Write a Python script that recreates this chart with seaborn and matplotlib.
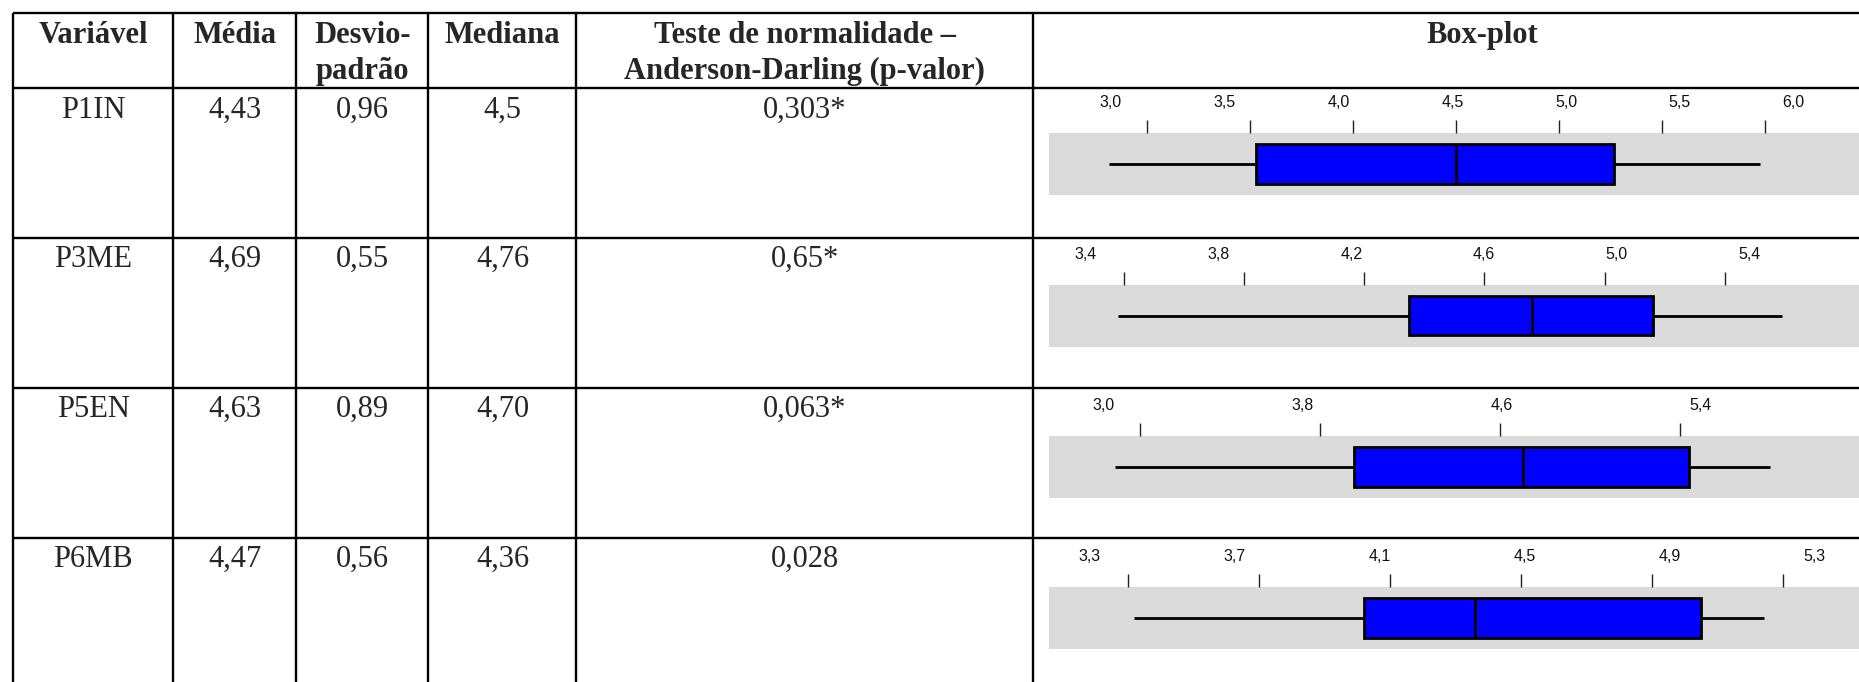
import numpy as np
import matplotlib.pyplot as plt
from matplotlib.transforms import ScaledTranslation
import seaborn as sns

# ======================================================================
# Dados lidos na tabela
# ======================================================================
VARIAVEIS = ["P1IN", "P3ME", "P5EN", "P6MB"]
MEDIA = ["4,43", "4,69", "4,63", "4,47"]
DESVIO = ["0,96", "0,55", "0,89", "0,56"]
MEDIANA = ["4,5", "4,76", "4,70", "4,36"]
AD_PVALOR = ["0,303*", "0,65*", "0,063*", "0,028"]

# resumo de cinco numeros de cada box-plot (min, Q1, mediana, Q3, max)
BOX_MIN = [2.82, 3.38, 2.89, 3.32]
BOX_Q1 = [3.53, 4.35, 3.95, 4.02]
BOX_MED = [4.50, 4.76, 4.70, 4.36]
BOX_Q3 = [5.27, 5.16, 5.44, 5.05]
BOX_MAX = [5.98, 5.59, 5.80, 5.24]

TICKS = [
    [3.0, 3.5, 4.0, 4.5, 5.0, 5.5, 6.0],
    [3.4, 3.8, 4.2, 4.6, 5.0, 5.4],
    [3.0, 3.8, 4.6, 5.4],
    [3.3, 3.7, 4.1, 4.5, 4.9, 5.3],
]
XLIMS = [(2.528, 6.774), (3.151, 6.064), (2.597, 6.483), (3.061, 5.729)]

HEADERS = [
    ["Variável"],
    ["Média"],
    ["Desvio-", "padrão"],
    ["Mediana"],
    ["Teste de normalidade –", "Anderson-Darling (p-valor)"],
    ["Box-plot"],
]

# ======================================================================
# Layout (pixels)
# ======================================================================
W, H, DPI = 1859, 682, 100
COL_X = [13.3, 173, 296.5, 428.5, 576.5, 1033, 1931]
ROW_Y = [13.3, 88, 237.7, 387.7, 537.7, 687.7]
BAND_TOP = [132.7, 284.5, 436.0, 587.0]
BAND_H = 62
BOX_LEFT, BOX_RIGHT = 1049.3, 1924
LABEL_STRETCH = 1.105  # os rotulos do eixo ficam um pouco mais espacados que os ticks

sns.set_style("white")
plt.rcParams["font.family"] = ["Liberation Serif", "DejaVu Serif"]

fig = plt.figure(figsize=(W / DPI, H / DPI), dpi=DPI)

# --- tabela ------------------------------------------------------------
tab = fig.add_axes([0, 0, 1, 1])
tab.set_xlim(0, W)
tab.set_ylim(H, 0)
tab.axis("off")

tab.hlines(ROW_Y[:-1], COL_X[0], W + 20, color="black", lw=1.7)
tab.vlines(COL_X[:-1], ROW_Y[0], H + 20, color="black", lw=1.7)

centers = [(a + b) / 2 for a, b in zip(COL_X[:-1], COL_X[1:])]
for cx, lines in zip(centers, HEADERS):
    for k, txt in enumerate(lines):
        tab.text(cx, ROW_Y[0] + 30 + 36 * k, txt, ha="center", va="baseline",
                 fontsize=22, fontweight="bold")

for r in range(len(VARIAVEIS)):
    row = [VARIAVEIS[r], MEDIA[r], DESVIO[r], MEDIANA[r], AD_PVALOR[r]]
    for cx, txt in zip(centers, row):
        tab.text(cx, ROW_Y[r + 1] + 29.5, txt, ha="center", va="baseline", fontsize=22)

# --- box-plots -----------------------------------------------------------
for r in range(len(VARIAVEIS)):
    bax = fig.add_axes([BOX_LEFT / W, 1 - (BAND_TOP[r] + BAND_H) / H,
                        (BOX_RIGHT - BOX_LEFT) / W, BAND_H / H])
    vals = [BOX_MIN[r], BOX_Q1[r], BOX_MED[r], BOX_Q3[r], BOX_MAX[r]]
    sns.boxplot(x=vals, ax=bax, whis=(0, 100), width=0.645, color="#0000ff",
                saturation=1, linecolor="black", linewidth=2.0, showcaps=False)

    x0, x1 = XLIMS[r]
    bax.set_xlim(x0, x1)
    bax.set_ylim(0.5, -0.5)
    bax.set_facecolor("#dadada")
    for s in bax.spines.values():
        s.set_visible(False)
    bax.set_yticks([])
    bax.xaxis.tick_top()
    bax.set_xticks(TICKS[r], labels=[f"{t:.1f}".replace(".", ",") for t in TICKS[r]])
    bax.tick_params(axis="x", top=True, bottom=False, direction="out", length=9.5,
                    width=1, color="#222222", labelcolor="#111111", labelsize=11.5, pad=7)

    width_px = BOX_RIGHT - BOX_LEFT
    for lab, t in zip(bax.get_xticklabels(), TICKS[r]):
        lab.set_fontfamily(["Liberation Sans", "DejaVu Sans"])
        frac = (t - x0) / (x1 - x0)
        dx = (frac - 0.5) * width_px * (LABEL_STRETCH - 1) / DPI
        lab.set_transform(lab.get_transform() + ScaledTranslation(dx, 0, fig.dpi_scale_trans))

fig.savefig("out.png", dpi=DPI)
